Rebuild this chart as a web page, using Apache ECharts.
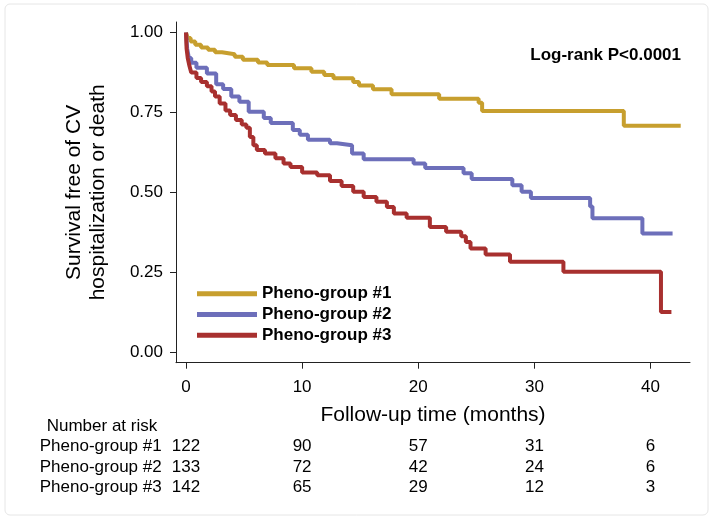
<!doctype html>
<html>
<head>
    <title>Kaplan-Meier</title>
    <script src="https://cdnjs.cloudflare.com/ajax/libs/echarts/6.0.0/echarts.min.js"></script>
</head>
<style>
    html, body { margin: 0; padding: 0; background: #fff; }
    #main { width: 714px; height: 522px; }
</style>
<body>
<div id="main"></div>
<script>
  // survival curves: time (months) and survival after each drop
  var g1Time = [0, 0.15, 0.4, 0.8, 1.3, 1.9, 2.5, 3.1, 4.2, 4.9, 6.2, 7.0, 9.3, 10.8, 11.9, 12.7, 14.4, 14.9, 16.1, 17.7, 21.8, 25.2, 25.5, 37.7, 42.6];
  var g1Surv = [1.0, 0.983, 0.972, 0.962, 0.953, 0.946, 0.938, 0.932, 0.924, 0.915, 0.906, 0.898, 0.888, 0.877, 0.867, 0.857, 0.845, 0.834, 0.822, 0.807, 0.793, 0.78, 0.754, 0.708, 0.708];

  var g2Time = [0, 0.1, 0.25, 0.45, 0.9, 1.8, 2.6, 3.2, 3.9, 4.6, 5.4, 6.7, 7.3, 9.2, 9.8, 10.5, 12.4, 13.0, 14.3, 15.3, 19.6, 20.6, 23.9, 24.6, 28.1, 28.9, 29.7, 34.8, 35.0, 39.3, 41.9];
  var g2Surv = [1.0, 0.95, 0.92, 0.905, 0.89, 0.872, 0.838, 0.823, 0.8, 0.783, 0.752, 0.732, 0.717, 0.695, 0.68, 0.664, 0.653, 0.647, 0.621, 0.603, 0.59, 0.576, 0.559, 0.541, 0.522, 0.501, 0.482, 0.455, 0.418, 0.371, 0.371];

  var g3Time = [0, 0.05, 0.15, 0.3, 0.45, 0.9, 1.3, 1.8, 2.2, 2.5, 2.9, 3.4, 3.8, 4.3, 4.8, 5.2, 5.5, 5.8, 6.1, 6.8, 7.7, 8.4, 9.0, 10.0, 11.3, 12.4, 13.4, 14.4, 15.3, 16.4, 17.3, 17.9, 19.0, 21.0, 22.4, 23.7, 24.1, 24.5, 25.8, 27.9, 32.5, 40.9, 41.8];
  var g3Surv = [1.0, 0.95, 0.92, 0.895, 0.875, 0.858, 0.845, 0.832, 0.815, 0.8, 0.778, 0.756, 0.742, 0.726, 0.712, 0.702, 0.673, 0.647, 0.632, 0.621, 0.606, 0.59, 0.579, 0.562, 0.553, 0.535, 0.519, 0.501, 0.485, 0.47, 0.454, 0.433, 0.42, 0.391, 0.376, 0.362, 0.344, 0.324, 0.305, 0.282, 0.251, 0.125, 0.125];

  var groupNames = ['Pheno-group #1', 'Pheno-group #2', 'Pheno-group #3'];
  var groupColors = ['#C79F2E', '#6D6FBA', '#A8302F'];

  // number at risk table
  var riskTimes = [0, 10, 20, 30, 40];
  var risk1 = [122, 90, 57, 31, 6];
  var risk2 = [133, 72, 42, 24, 6];
  var risk3 = [142, 65, 29, 12, 3];
  var riskOffsets = [84, 104.3, 124.3];

  var xTicks = [0, 10, 20, 30, 40];
  var yTicks = [0, 0.25, 0.5, 0.75, 1];

  var FONT = 'Liberation Sans, Arial, Helvetica, sans-serif';

  function pairs(t, s) {
    return t.map(function (v, i) { return [v, s[i]]; });
  }

  function riskAxis(values, offset) {
    return {
      type: 'value', gridIndex: 0, position: 'bottom', offset: offset,
      min: -0.86, max: 43.4,
      axisLine: { show: false }, axisTick: { show: false }, splitLine: { show: false },
      axisLabel: {
        customValues: riskTimes, margin: 0, verticalAlign: 'middle',
        fontFamily: FONT, fontSize: 17, color: '#000',
        formatter: function (v) { return String(values[riskTimes.indexOf(Math.round(v))]); }
      }
    };
  }

  // row labels of the risk table, right aligned just left of the axis start
  var rowLabels = groupNames.map(function (n, i) {
    return {
      type: 'text', x: 161.7, y: 362.7 + riskOffsets[i],
      style: { text: n, fontFamily: FONT, fontSize: 17, fill: '#000', align: 'right', verticalAlign: 'middle' }
    };
  });

  var chart = echarts.init(document.getElementById('main'));
  var option = {
    animation: false,
    backgroundColor: '#fff',
    grid: { left: 176, right: 24, top: 22, bottom: 159.3 },
    legend: {
      data: groupNames, orient: 'vertical', left: 197, top: 279, padding: 0,
      icon: 'rect', itemWidth: 60, itemHeight: 5, itemGap: -8.5,
      textStyle: { fontFamily: FONT, fontSize: 17, fontWeight: 'bold', color: '#000', lineHeight: 20 }
    },
    xAxis: [
      {
        type: 'value', min: -0.86, max: 43.4, position: 'bottom',
        name: 'Follow-up time (months)', nameLocation: 'middle', nameGap: 34, nameMoveOverlap: false,
        nameTextStyle: { fontFamily: FONT, fontSize: 21, color: '#000' },
        axisLine: { onZero: false, lineStyle: { color: '#222', width: 1 } },
        axisTick: { customValues: xTicks, length: 6, lineStyle: { color: '#222' } },
        axisLabel: { customValues: xTicks, margin: 10, fontFamily: FONT, fontSize: 17, color: '#000' },
        splitLine: { show: false }
      },
      riskAxis(risk1, riskOffsets[0]),
      riskAxis(risk2, riskOffsets[1]),
      riskAxis(risk3, riskOffsets[2])
    ],
    yAxis: {
      type: 'value', min: -0.034, max: 1.033,
      name: 'Survival free of CV\nhospitalization or death', nameLocation: 'middle', nameGap: 66, nameMoveOverlap: false,
      nameTextStyle: { fontFamily: FONT, fontSize: 21, color: '#000', lineHeight: 24 },
      axisLine: { show: true, onZero: false, lineStyle: { color: '#222', width: 1 } },
      axisTick: { show: true, customValues: yTicks, length: 6, lineStyle: { color: '#222' } },
      axisLabel: {
        customValues: yTicks, margin: 13, fontFamily: FONT, fontSize: 17, color: '#000',
        formatter: function (v) { return v.toFixed(2); }
      },
      splitLine: { show: false }
    },
    graphic: [
      {
        type: 'rect', shape: { x: 5, y: 4, width: 703, height: 511, r: 5 },
        style: { fill: 'none', stroke: '#e6e6e6', lineWidth: 1 }, silent: true
      },
      {
        type: 'text', x: 681, y: 55,
        style: { text: 'Log-rank P<0.0001', fontFamily: FONT, fontSize: 17, fontWeight: 'bold', fill: '#000', align: 'right', verticalAlign: 'middle' }
      },
      {
        type: 'text', x: 46.7, y: 426.7,
        style: { text: 'Number at risk', fontFamily: FONT, fontSize: 17, fill: '#000', align: 'left', verticalAlign: 'middle' }
      }
    ].concat(rowLabels),
    series: [
      { name: groupNames[0], type: 'line', step: 'end', showSymbol: false, data: pairs(g1Time, g1Surv),
        color: groupColors[0], lineStyle: { width: 4, color: groupColors[0] } },
      { name: groupNames[1], type: 'line', step: 'end', showSymbol: false, data: pairs(g2Time, g2Surv),
        color: groupColors[1], lineStyle: { width: 4, color: groupColors[1] } },
      { name: groupNames[2], type: 'line', step: 'end', showSymbol: false, data: pairs(g3Time, g3Surv),
        color: groupColors[2], lineStyle: { width: 4, color: groupColors[2] } }
    ]
  };
  chart.setOption(option);
</script>
</body>
</html>
